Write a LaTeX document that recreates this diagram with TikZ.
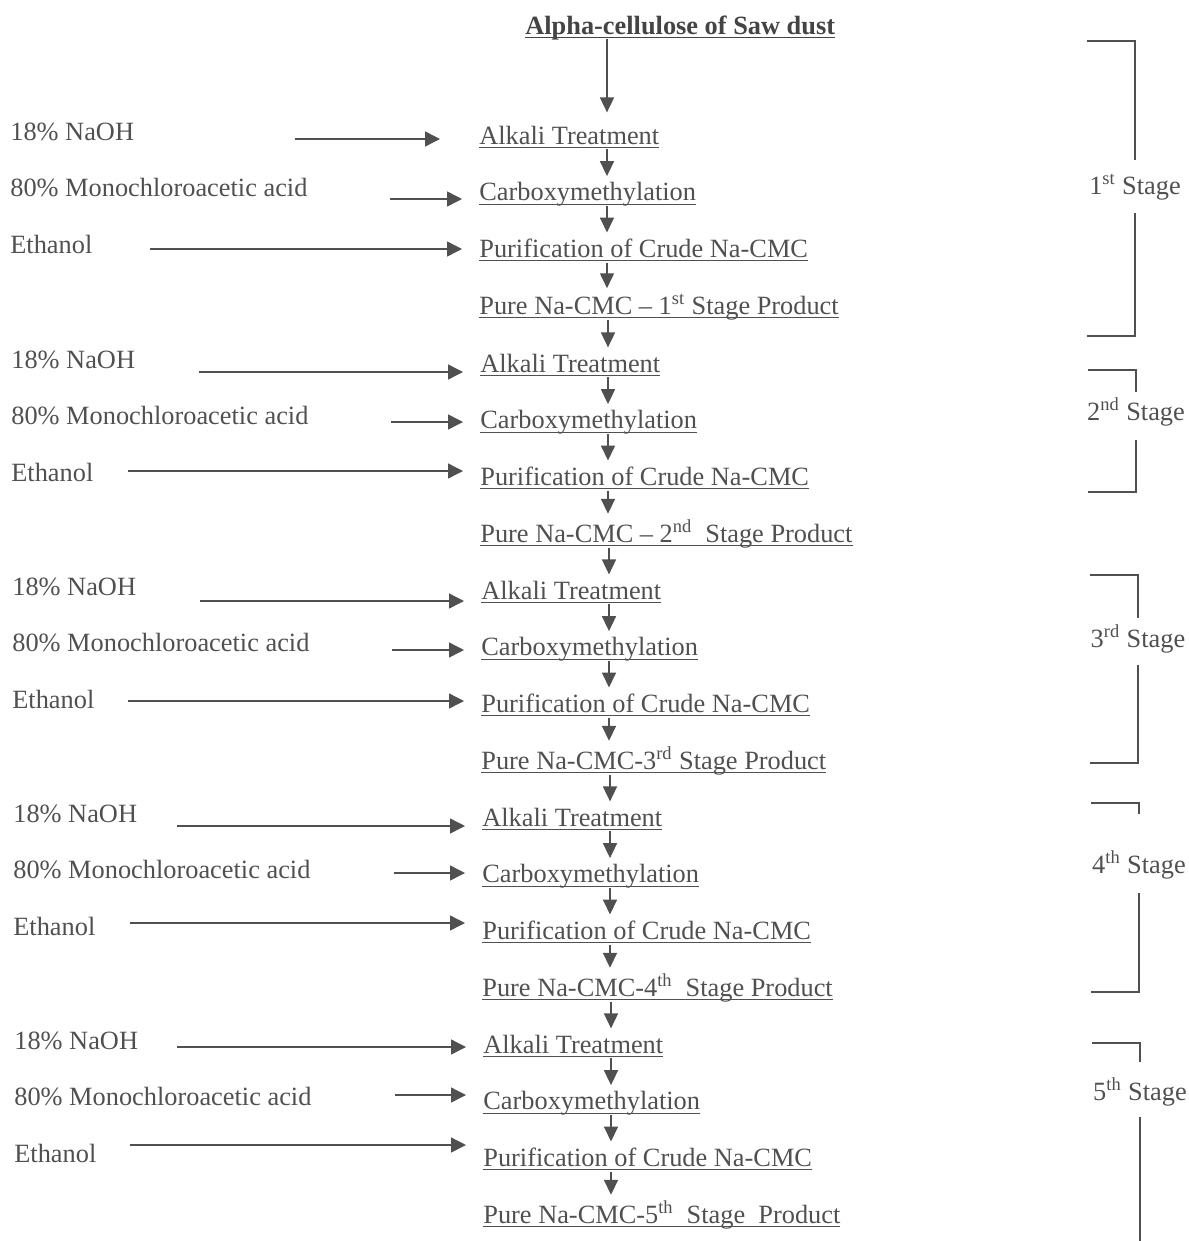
\documentclass[tikz,border=0pt]{standalone}
\usepackage{amsmath}
\usepackage{fontspec}
\setmainfont{Liberation Serif}
\usetikzlibrary{arrows.meta,calc}

\definecolor{ink}{HTML}{505050}
\newcommand\ul[1]{\underline{\smash[b]{#1}}}

\tikzset{
  flowtext/.style={anchor=base west, inner sep=0pt, text=ink},
  feedarrow/.style={draw=ink, line width=0.8pt, -{Triangle[length=8.5pt,width=8.5pt]}},
  flowarrow/.style={draw=ink, line width=0.8pt, -{Triangle[length=8.5pt,width=8pt]}},
  bracket/.style={draw=ink, line width=0.75pt},
}

\begin{document}
\begin{tikzpicture}[x=0.02cm, y=-0.02cm, line cap=butt, font=\fontsize{15}{18}\selectfont]
  \useasboundingbox (0,0) rectangle (1189,1241);

  % starting material
  \node[flowtext, alias=p0, text=ink!85!black, font=\fontsize{15}{18}\selectfont\bfseries] (cellulose) at (525,34) {\ul{Alpha-cellulose of Saw dust}};

  % the five stages of carboxymethylation
  \foreach \s/\x/\b/\prod/\nx/\ny/\ng/\mx/\my/\ex/\ey/\tg [remember=\s as \prev (initially 0)] in {
    1/479/144/{Pure Na-CMC -- 1\textsuperscript{st} Stage Product}/295/139/0.78cm/390/199/150/249/0.26cm,
    2/480/372/{Pure Na-CMC -- 2\textsuperscript{nd}\ \ Stage Product}/199/372/0.34cm/391/422/128/471/0.12cm,
    3/481/599/{Pure Na-CMC-3\textsuperscript{rd} Stage Product}/200/601/0.34cm/392/650/128/701/0.12cm,
    4/482/826/{Pure Na-CMC-4\textsuperscript{th}\ \ Stage Product}/177/826/0.34cm/394/873/130/923/0.12cm,
    5/483/1053/{Pure Na-CMC-5\textsuperscript{th}\ \ Stage\ \ Product}/177/1047/0.34cm/395/1095/130/1145/0.12cm}
  {
    \node[flowtext] (a\s) at (\x,\b) {\ul{Alkali Treatment}};
    \node[flowtext] (c\s) at (\x,\b+56.7) {\ul{Carboxymethylation}};
    \node[flowtext] (u\s) at (\x,\b+113.4) {\ul{Purification of Crude Na-CMC}};
    \node[flowtext] (p\s) at (\x,\b+170.1) {\ul{\prod}};

    % reagents
    \node[flowtext] (naoh\s) at (\x-469,\b-4) {18\% NaOH};
    \node[flowtext] (mca\s) at (\x-469,\b+52.7) {80\% Monochloroacetic acid};
    \node[flowtext] (etoh\s) at (\x-469,\b+109.4) {Ethanol};

    \coordinate (nin\s) at (\nx,\ny);
    \coordinate (min\s) at (\mx,\my);
    \coordinate (ein\s) at (\ex,\ey);
    \draw[feedarrow, shorten >=\ng] (nin\s) -- (nin\s -| a\s.west);
    \draw[feedarrow, shorten >=0.34cm] (min\s) -- (min\s -| c\s.west);
    \draw[feedarrow, shorten >=0.34cm] (ein\s) -- (ein\s -| u\s.west);

    % main line
    \coordinate (v\s) at (\x+128,0);
    \draw[flowarrow, shorten >=\tg] (p\prev.south -| v\s) -- (a\s.north -| v\s);
    \draw[flowarrow, shorten >=0.12cm] (a\s.south -| v\s) -- (c\s.north -| v\s);
    \draw[flowarrow, shorten >=0.12cm] (c\s.south -| v\s) -- (u\s.north -| v\s);
    \draw[flowarrow, shorten >=0.12cm] (u\s.south -| v\s) -- (p\s.north -| v\s);
  }

  % stage brackets
  \foreach \s/\ord/\bx/\yt/\ga/\ly/\gb/\yb in {
    1/st/1135/41/160/194/213/336,
    2/nd/1136/370/392/420/440/492,
    3/rd/1138/575/618/647/665/763,
    4/th/1139/803/814/873/893/992,
    5/th/1140/1043/1062/1100/1117/1241}
  {
    \node[text=ink, inner sep=0pt, anchor=base] (stage\s) at (\bx,\ly) {\s\textsuperscript{\ord} Stage};
    \draw[bracket] (\bx-48,\yt) -| (\bx,\ga);
    \ifnum\s<5
      \draw[bracket] (\bx,\gb) |- (\bx-48,\yb);
    \else
      \draw[bracket] (\bx,\gb) -- (\bx,\yb);
    \fi
  }
\end{tikzpicture}
\end{document}
